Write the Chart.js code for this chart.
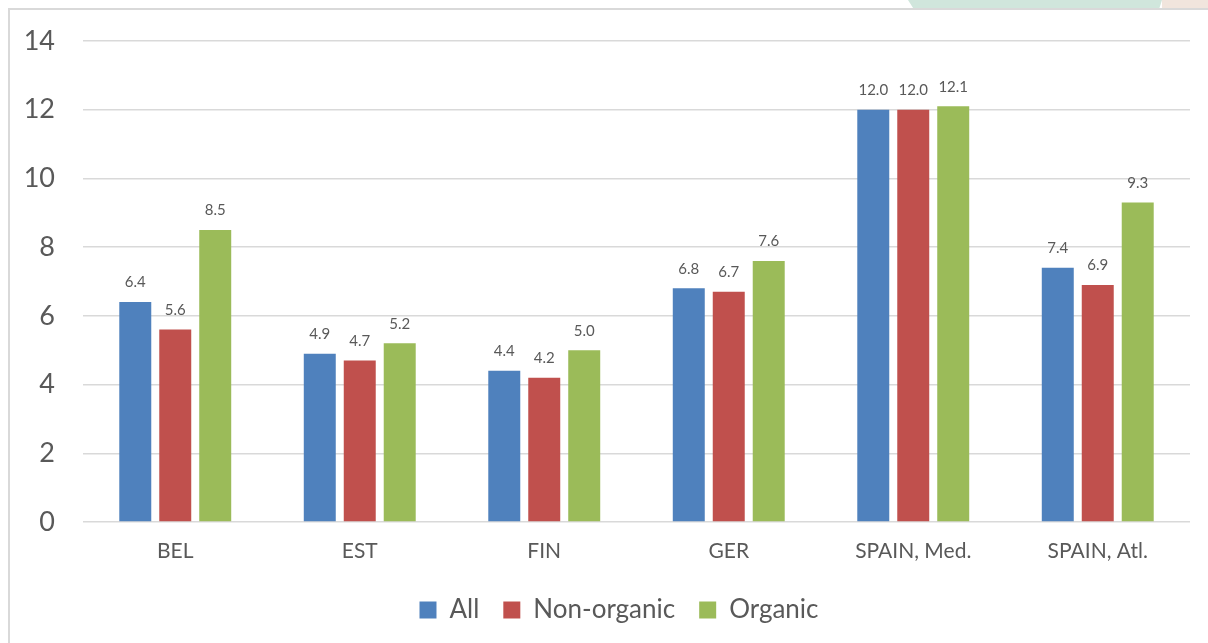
<!DOCTYPE html>
<html>
<head>
<meta charset="utf-8">
<script src="https://cdn.jsdelivr.net/npm/chart.js@4"></script>
<style>
  html, body { margin: 0; padding: 0; background: #ffffff; overflow: hidden; }
  #wrap { position: relative; width: 1208px; height: 643px; }
  #frame { position: absolute; left: 8px; top: 8px; width: 1300px; height: 700px;
           border-left: 2px solid #d9d9d9; border-top: 2px solid #d9d9d9; }
  #decoG { position: absolute; top: 0; left: 908px; width: 254px; height: 8px; background: #d0e6dc;
           clip-path: polygon(0 0, 100% 0, 99% 100%, 2% 100%); }
  #decoP { position: absolute; top: 0; left: 1162px; width: 46px; height: 8px; background: #f1e5dd; }
  canvas { position: absolute; left: 0; top: 0; }
</style>
</head>
<body>
<div id="wrap">
  <div id="decoG"></div>
  <div id="decoP"></div>
  <div id="frame"></div>
  <canvas id="c" width="1208" height="643"></canvas>
</div>
<script>
const categories = ["BEL", "EST", "FIN", "GER", "SPAIN, Med.", "SPAIN, Atl."];
const seriesNames = ["All", "Non-organic", "Organic"];
const allValues = [6.4, 4.9, 4.4, 6.8, 12.0, 7.4];
const nonOrganicValues = [5.6, 4.7, 4.2, 6.7, 12.0, 6.9];
const organicValues = [8.5, 5.2, 5.0, 7.6, 12.1, 9.3];
const yTicks = [0, 2, 4, 6, 8, 10, 12, 14];

const colors = ["#4f81bd", "#c0504d", "#9bbb59"];
const textColor = "#595959";
const fontFamily = "Lato, 'Liberation Sans', sans-serif";

const dataLabels = {
  id: "dataLabels",
  afterDatasetsDraw(chart) {
    const ctx = chart.ctx;
    ctx.save();
    ctx.font = "15px " + fontFamily;
    ctx.fillStyle = textColor;
    ctx.textAlign = "center";
    ctx.textBaseline = "bottom";
    chart.data.datasets.forEach((ds, i) => {
      const meta = chart.getDatasetMeta(i);
      meta.data.forEach((bar, j) => {
        ctx.fillText(ds.data[j].toFixed(1), bar.x, bar.y - 12);
      });
    });
    ctx.restore();
  }
};

// centre the legend under the whole frame rather than the padded canvas
const legendShift = {
  id: "legendShift",
  afterLayout(chart) {
    if (chart.legend) { chart.legend.left += 24; chart.legend.right += 24; }
  }
};

new Chart(document.getElementById("c"), {
  type: "bar",
  data: {
    labels: categories,
    datasets: [
      { label: seriesNames[0], data: allValues, backgroundColor: colors[0] },
      { label: seriesNames[1], data: nonOrganicValues, backgroundColor: colors[1] },
      { label: seriesNames[2], data: organicValues, backgroundColor: colors[2] }
    ]
  },
  options: {
    responsive: false,
    animation: false,
    devicePixelRatio: 1,
    layout: { padding: { top: 41, left: 0, right: 18, bottom: 10 } },
    datasets: { bar: { categoryPercentage: 0.65, barPercentage: 0.8, borderWidth: 0 } },
    plugins: {
      tooltip: { enabled: false },
      legend: {
        position: "bottom",
        labels: {
          color: textColor,
          font: { size: 26, family: fontFamily },
          boxWidth: 17,
          boxHeight: 17,
          padding: 24
        }
      }
    },
    scales: {
      x: {
        grid: { display: false },
        border: { display: false },
        ticks: { color: textColor, font: { size: 21, family: fontFamily }, padding: 9 },
        afterFit(scale) { scale.height = 51; }
      },
      y: {
        min: 0,
        max: 14,
        afterBuildTicks(scale) { scale.ticks = yTicks.map(v => ({ value: v })); },
        grid: { color: "#d9d9d9", lineWidth: 1.5, drawTicks: false },
        border: { display: false },
        ticks: { color: textColor, font: { size: 27, family: fontFamily }, padding: 28 },
        afterFit(scale) { scale.width = 83; scale.paddingTop = 0; scale.paddingBottom = 0; }
      }
    }
  },
  plugins: [dataLabels, legendShift]
});
</script>
</body>
</html>
